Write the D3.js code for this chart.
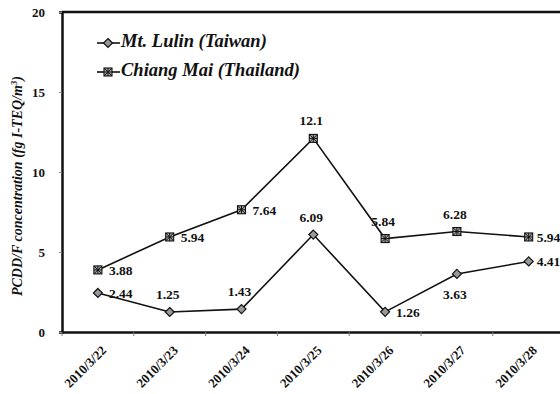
<!DOCTYPE html>
<html>
<head>
<meta charset="utf-8">
<script src="https://cdn.jsdelivr.net/npm/d3@7"></script>
<style>
  html, body { margin: 0; padding: 0; background: #fff; }
  svg { display: block; }
  text { font-family: "Liberation Serif", "Times New Roman", serif; fill: #111; }
</style>
</head>
<body>
<svg id="chart" width="560" height="394"></svg>
<script>
// Sampling dates
const dates = ["2010/3/22", "2010/3/23", "2010/3/24", "2010/3/25", "2010/3/26", "2010/3/27", "2010/3/28"];
// PCDD/F concentrations, fg I-TEQ/m3
const lulin = [2.44, 1.25, 1.43, 6.09, 1.26, 3.63, 4.41];
const chiangMai = [3.88, 5.94, 7.64, 12.1, 5.84, 6.28, 5.94];
const yTicks = [0, 5, 10, 15, 20];
const seriesNames = ["Mt. Lulin (Taiwan)", "Chiang Mai (Thailand)"];
// where each value label sits relative to its point
const lulinLabelPos = ["right", "above", "above", "above", "right", "below", "right"];
const chiangLabelPos = ["right", "right", "right", "above", "above", "above", "right"];

const svg = d3.select("#chart");
const margin = { left: 62, top: 12, bottom: 62 };
const W = 560, H = 394;
const plotBottom = H - margin.bottom; // 332

const x = d3.scaleBand().domain(dates).range([margin.left, margin.left + 7 * 71.8]);
const y = d3.scaleLinear().domain([0, 20]).range([plotBottom, margin.top]);
const cx = d => x(d) + x.bandwidth() / 2;

// top border of the frame
svg.append("line").attr("x1", margin.left).attr("x2", W)
  .attr("y1", margin.top).attr("y2", margin.top)
  .attr("stroke", "#111").attr("stroke-width", 2.5);

// y axis
const yAxis = svg.append("g").attr("transform", `translate(${margin.left},0)`)
  .call(d3.axisLeft(y).tickValues(yTicks).tickSize(3).tickPadding(14).tickFormat(d3.format("d")));
yAxis.select(".domain").attr("stroke", "#111").attr("stroke-width", 2.5);
yAxis.selectAll(".tick line").attr("stroke", "#888");
yAxis.selectAll("text").style("font-size", "13px").style("font-weight", "bold")
  .style("font-family", "'Liberation Serif', serif");

// x axis
const xAxis = svg.append("g").attr("transform", `translate(0,${plotBottom})`)
  .call(d3.axisBottom(x).tickSize(0).tickPadding(0));
xAxis.select(".domain").attr("stroke", "#111").attr("stroke-width", 2.5);
xAxis.selectAll(".tick text")
  .style("font-size", "13px").style("font-weight", "bold")
  .style("font-family", "'Liberation Serif', serif")
  .attr("text-anchor", "end")
  .attr("dy", "0.35em").attr("y", 0).attr("x", 0)
  .attr("transform", "translate(6,16) rotate(-45)");
// band-edge tick marks below the axis
svg.append("g").selectAll("line").data(dates.concat(["end"]))
  .join("line")
  .attr("x1", (d, i) => margin.left + i * x.step())
  .attr("x2", (d, i) => margin.left + i * x.step())
  .attr("y1", plotBottom).attr("y2", plotBottom + 4)
  .attr("stroke", "#777").attr("stroke-width", 1);

// y axis title
const title = svg.append("text")
  .attr("transform", `translate(22,${186}) rotate(-90)`)
  .attr("text-anchor", "middle")
  .style("font-size", "14px").style("font-style", "italic").style("font-weight", "bold");
title.append("tspan").text("PCDD/F concentration (fg I-TEQ/m");
title.append("tspan").attr("dy", -5).style("font-size", "9px").text("3");
title.append("tspan").attr("dy", 5).text(")");

const line = d3.line().x((d, i) => cx(dates[i])).y(d => y(d));

function diamond(g, px, py) {
  g.append("path")
    .attr("d", `M${px},${py - 4.5}L${px + 4.5},${py}L${px},${py + 4.5}L${px - 4.5},${py}Z`)
    .attr("fill", "#999").attr("stroke", "#111").attr("stroke-width", 1.2);
}
function crossSquare(g, px, py) {
  const s = 4;
  g.append("rect").attr("x", px - s).attr("y", py - s).attr("width", 2 * s).attr("height", 2 * s)
    .attr("fill", "#aaa").attr("stroke", "#111").attr("stroke-width", 1.1);
  g.append("path")
    .attr("d", `M${px - s},${py}H${px + s}M${px},${py - s}V${py + s}M${px - s},${py - s}L${px + s},${py + s}M${px + s},${py - s}L${px - s},${py + s}`)
    .attr("stroke", "#111").attr("stroke-width", 1);
}

function drawSeries(values, marker, labelPos) {
  const g = svg.append("g");
  g.append("path").datum(values).attr("d", line)
    .attr("fill", "none").attr("stroke", "#111").attr("stroke-width", 1.6);
  values.forEach((v, i) => marker(g, cx(dates[i]), y(v)));
  g.selectAll("text.val").data(values).join("text").attr("class", "val")
    .style("font-size", "13.5px").style("font-weight", "bold")
    .attr("text-anchor", (d, i) => labelPos[i] === "right" ? "start" : "middle")
    .attr("x", (d, i) => {
      if (labelPos[i] !== "right") return cx(dates[i]) - 2;
      return cx(dates[i]) + (i === dates.length - 1 ? 8 : 11);
    })
    .attr("y", (d, i) => {
      const py = y(d);
      if (labelPos[i] === "above") return py - 13;
      if (labelPos[i] === "below") return py + 25;
      return py + 5;
    })
    .text(d => d);
}

drawSeries(lulin, diamond, lulinLabelPos);
drawSeries(chiangMai, crossSquare, chiangLabelPos);

// legend
const legend = svg.append("g");
const markers = [diamond, crossSquare];
seriesNames.forEach((name, i) => {
  const ly = 43 + i * 29;
  legend.append("line").attr("x1", 97).attr("x2", 120).attr("y1", ly).attr("y2", ly)
    .attr("stroke", "#111").attr("stroke-width", 1.6);
  markers[i](legend, 108, ly);
  legend.append("text").attr("x", 121).attr("y", ly + 4)
    .style("font-size", "18.5px").style("font-style", "italic").style("font-weight", "bold")
    .text(name);
});
</script>
</body>
</html>
